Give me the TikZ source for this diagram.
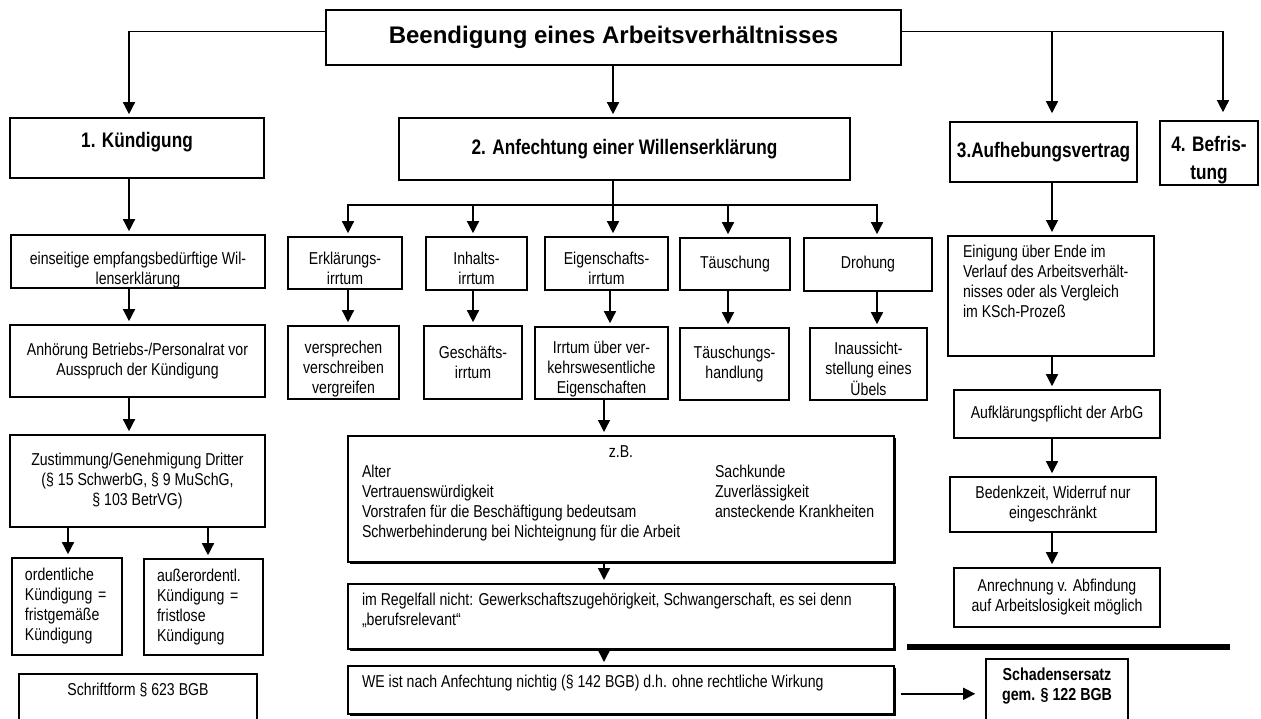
\documentclass[tikz,border=0pt]{standalone}
\usepackage{fontspec}
\setmainfont{Liberation Sans}
\newfontfamily\narrowfont{Liberation Sans}[FakeStretch=0.82]
\usetikzlibrary{arrows.meta,shadows}

\newcommand{\boxfont}{\narrowfont\fontsize{8.6pt}{10pt}\selectfont}
\newcommand{\boldboxfont}{\narrowfont\bfseries\fontsize{8.7pt}{10pt}\selectfont}
\newcommand{\headingfont}{\narrowfont\bfseries\fontsize{10.5pt}{14pt}\selectfont}
\newcommand{\maintitlefont}{\bfseries\fontsize{12pt}{14pt}\selectfont}
% text at the top of a box of fixed size
\newcommand{\topalign}[3]{\parbox[c][#2][t]{#1}{\strut#3}}
% centred lines, moved down inside their box
\newcommand{\shiftdown}[2]{\raisebox{-#1}[\height][\depth]{\begin{tabular}{@{}c@{}}#2\end{tabular}}}

\begin{document}
\begin{tikzpicture}[x=0.5pt,y=-0.5pt,>={Triangle[length=6pt,width=6pt]},
  box/.style={draw,line width=0.8pt,inner sep=2pt,align=center,font=\boxfont},
  headbox/.style={box,font=\headingfont},
  leftbox/.style={box,align=left,inner xsep=6.5pt},
  topbox/.style={box,anchor=north,inner sep=4pt},
  shadowbox/.style={topbox,inner xsep=7pt,fill=white,
    drop shadow={shadow xshift=1.2pt,shadow yshift=-1.2pt,fill=black,opacity=1}},
  arr/.style={->,line width=0.7pt,shorten >=1.5pt}]

  \path[use as bounding box,clip] (0,0) rectangle (1261,718);

  % columns of the arrows
  \coordinate (colK) at (129,0);
  \coordinate (colO) at (68,0);
  \coordinate (colAo) at (208,0);
  \coordinate (colA) at (613,0);
  \coordinate (colZ) at (604,0);
  \coordinate (colC) at (1052,0);
  \coordinate (colB) at (1223,0);
  \coordinate (fork) at (613,205);

  % top row
  \node[draw,line width=0.8pt,minimum width=287.5pt,minimum height=27.5pt,font=\maintitlefont] (title) at (613.5,37.5) {Beendigung eines Arbeitsverhältnisses};
  \node[headbox,minimum width=127pt,minimum height=30pt] (kuend) at (137,148) {\shiftdown{-3pt}{1. Kündigung}};
  \node[headbox,minimum width=225.5pt,minimum height=31pt] (anf) at (624.5,149) {2. Anfechtung einer Willenserklärung};
  \node[headbox,minimum width=93.5pt,minimum height=30pt] (aufh) at (1043.5,152) {3.Aufhebungsvertrag};
  \node[headbox,minimum width=49pt,minimum height=30pt] (befr) at (1209,153) {\shiftdown{3.5pt}{4. Befris-\\tung}};

  % 1. Kuendigung
  \node[box,minimum width=127pt,minimum height=26.5pt] (einseitig) at (138,261.5) {\shiftdown{4.5pt}{einseitige empfangsbedürftige Wil-\\lenserklärung}};
  \node[box,minimum width=127.5pt,minimum height=36pt] (anhoer) at (137.5,361) {Anhörung Betriebs-/Personalrat vor\\Ausspruch der Kündigung};
  \node[box,minimum width=127.5pt,minimum height=46pt] (zustimm) at (137.5,481) {Zustimmung/Genehmigung Dritter\\(§ 15 SchwerbG, § 9 MuSchG,\\§ 103 BetrVG)};
  \node[leftbox,text width=42pt,minimum width=55pt,minimum height=48.5pt] (ordentl) at (67,606.5) {ordentliche\\Kündigung =\\fristgemäße\\Kündigung};
  \node[leftbox,text width=46.5pt,minimum width=59.5pt,minimum height=48pt] (ausser) at (203.5,607) {außerordentl.\\Kündigung =\\fristlose\\Kündigung};
  \node[topbox] (schrift) at (138,673) {\topalign{111pt}{28pt}{\centering Schriftform § 623 BGB}};

  % 2. Anfechtung
  \node[box,minimum width=57pt,minimum height=26pt] (erkl) at (345,263) {\shiftdown{3.5pt}{Erklärungs-\\irrtum}};
  \node[box,minimum width=50.5pt,minimum height=26.5pt] (inhalt) at (476.5,263.5) {\shiftdown{3.5pt}{Inhalts-\\irrtum}};
  \node[box,minimum width=61.5pt,minimum height=26.5pt] (eigen) at (606.5,263.5) {\shiftdown{3.5pt}{Eigenschafts-\\irrtum}};
  \node[box,minimum width=55pt,minimum height=26pt] (taeusch) at (735,264) {Täuschung};
  \node[box,minimum width=64pt,minimum height=26.5pt] (droh) at (868,264.5) {Drohung};
  \node[box,minimum width=55.5pt,minimum height=36.5pt] (verspr) at (343.5,362.5) {\shiftdown{3.5pt}{versprechen\\verschreiben\\vergreifen}};
  \node[box,minimum width=49pt,minimum height=36.5pt] (geschaeft) at (473,362.5) {Geschäfts-\\irrtum};
  \node[box,minimum width=66.5pt,minimum height=36pt] (irrtum) at (601.5,363) {\shiftdown{3pt}{Irrtum über ver-\\kehrswesentliche\\Eigenschaften}};
  \node[box,minimum width=54.5pt,minimum height=36pt] (taeuschh) at (734.5,364) {Täuschungs-\\handlung};
  \node[box,minimum width=58.5pt,minimum height=36pt] (inauss) at (868.5,364) {\shiftdown{3.5pt}{Inaussicht-\\stellung eines\\Übels}};

  \node[shadowbox] (zb) at (621,435) {\topalign{259pt}{55pt}{{\centering z.B.\par}%
    \begin{tabular}[t]{@{}p{176.5pt}@{}l@{}}
      Alter & Sachkunde\\
      Vertrauenswürdigkeit & Zuverlässigkeit\\
      Vorstrafen für die Beschäftigung bedeutsam & ansteckende Krankheiten\\
      Schwerbehinderung bei Nichteignung für die Arbeit &
    \end{tabular}}};
  \node[shadowbox] (regel) at (621,583) {\topalign{259pt}{24.5pt}{\raggedright im Regelfall nicht: Gewerkschaftszugehörigkeit, Schwangerschaft, es sei denn\\„berufsrelevant“}};
  \node[shadowbox] (we) at (621,665) {\topalign{259pt}{16pt}{\raggedright WE ist nach Anfechtung nichtig (§ 142 BGB) d.h. ohne rechtliche Wirkung}};
  \node[topbox,font=\boldboxfont] (schaden) at (1057,658) {\topalign{63pt}{35.5pt}{\centering Schadensersatz\\gem. § 122 BGB}};

  % 3. Aufhebungsvertrag
  \node[topbox,inner xsep=7.5pt] (einig) at (1051,235) {\topalign{88pt}{52pt}{\raggedright Einigung über Ende im\\Verlauf des Arbeitsverhält-\\nisses oder als Vergleich\\im KSch-Prozeß}};
  \node[box,minimum width=103pt,minimum height=24pt] (aufkl) at (1057,414) {Aufklärungspflicht der ArbG};
  \node[box,minimum width=103pt,minimum height=27.5pt] (bedenk) at (1053,504.5) {Bedenkzeit, Widerruf nur\\eingeschränkt};
  \node[box,minimum width=103pt,minimum height=29.5pt] (anrech) at (1057,597.5) {Anrechnung v. Abfindung\\auf Arbeitslosigkeit möglich};

  \draw[line width=2.8pt] (907,647) -- (1230,647);

  % arrows from the title
  \draw[arr] ([yshift=3pt]title.west) -| (kuend.north -| colK);
  \draw[arr] (title.south -| colA) -- (anf.north -| colA);
  \draw[arr,shorten >=4pt] ([yshift=3pt]title.east) -| (befr.north -| colB);
  \draw[arr,shorten >=4pt] ([yshift=3pt]title.east -| colC) -- (aufh.north -| colC);

  % left column
  \draw[arr] (kuend.south -| colK) -- (einseitig.north -| colK);
  \draw[arr] (einseitig.south -| colK) -- (anhoer.north -| colK);
  \draw[arr] (anhoer.south -| colK) -- (zustimm.north -| colK);
  \draw[arr] (zustimm.south -| colO) -- (ordentl.north -| colO);
  \draw[arr] (zustimm.south -| colAo) -- (ausser.north -| colAo);

  % middle
  \draw[arr] (anf.south -| colA) -- (eigen.north -| colA);
  \foreach \nd/\x in {erkl/348, inhalt/473, taeusch/728, droh/877}
    \draw[arr] (fork) -| (\nd.north -| \x,0);
  \foreach \a/\b/\x in {erkl/verspr/348, inhalt/geschaeft/473, eigen/irrtum/610, taeusch/taeuschh/728, droh/inauss/877}
    \draw[arr] (\a.south -| \x,0) -- (\b.north -| \x,0);
  \draw[arr] (irrtum.south -| colZ) -- (zb.north -| colZ);
  \draw[arr] (zb.south -| colZ) -- (regel.north -| colZ);
  \draw[arr] (regel.south -| colZ) -- (we.north -| colZ);
  \draw[arr,shorten <=3pt,shorten >=5pt] ([yshift=-2pt]we.east) -- ([yshift=-2pt]we.east -| schaden.west);

  % right column
  \draw[arr] (aufh.south -| colC) -- (einig.north -| colC);
  \draw[arr] (einig.south -| colC) -- (aufkl.north -| colC);
  \draw[arr] (aufkl.south -| colC) -- (bedenk.north -| colC);
  \draw[arr] (bedenk.south -| colC) -- (anrech.north -| colC);
\end{tikzpicture}
\end{document}
